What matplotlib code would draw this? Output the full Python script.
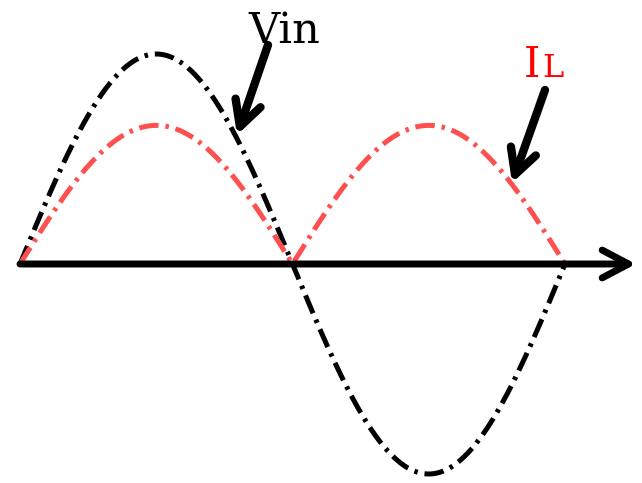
import numpy as np
import matplotlib.pyplot as plt

plt.rcParams['lines.scale_dashes'] = False

# one period of the input voltage and the rectified load current
t = np.linspace(0, 2 * np.pi, 400)
vin_amp = 1.0
il_amp = 0.66
vin = vin_amp * np.sin(t)
il = il_amp * np.abs(np.sin(t))

# pixel -> data scale (one period spans 545 px, amplitude 210 px)
sx = 545 / (2 * np.pi)
sy = 210.0

def px(x):
    return (x - 20) / sx

def py(y):
    return (264 - y) / sy

fig = plt.figure(figsize=(6.42, 4.83), dpi=100)
ax = fig.add_axes([0, 0, 1, 1])
ax.set_xlim(px(0), px(642))
ax.set_ylim(py(483), py(0))
ax.axis('off')

# time axis with open arrow head
ax.annotate('', xy=(px(636), 0), xytext=(0, 0),
            arrowprops=dict(arrowstyle='->, head_length=1.9, head_width=1.0',
                            lw=5, color='black', shrinkA=0, shrinkB=0,
                            capstyle='round', joinstyle='round'))

ax.plot(t, vin, color='black', lw=3.6, dashes=(14, 5, 2.5, 5))
ax.plot(t, il, color='#ff5050', lw=3.6, dashes=(14, 5, 2.5, 5))

# labels with pointer arrows
ax.text(px(248), py(43), 'Vin', family='DejaVu Serif', fontsize=31,
        ha='left', va='baseline', color='black')
ax.text(px(524), py(77), 'I', family='DejaVu Serif', fontsize=30,
        ha='left', va='baseline', color='red')
ax.text(px(542), py(77), 'L', family='DejaVu Serif', fontsize=23,
        ha='left', va='baseline', color='red')

arrow = dict(arrowstyle='->, head_length=1.8, head_width=0.95', lw=6,
             color='black', shrinkA=0, shrinkB=0,
             capstyle='round', joinstyle='round')
ax.annotate('', xy=(px(237), py(135)), xytext=(px(268), py(45)),
            arrowprops=arrow)
ax.annotate('', xy=(px(512), py(183)), xytext=(px(545), py(90)),
            arrowprops=arrow)

fig.savefig('out.png', dpi=100)
